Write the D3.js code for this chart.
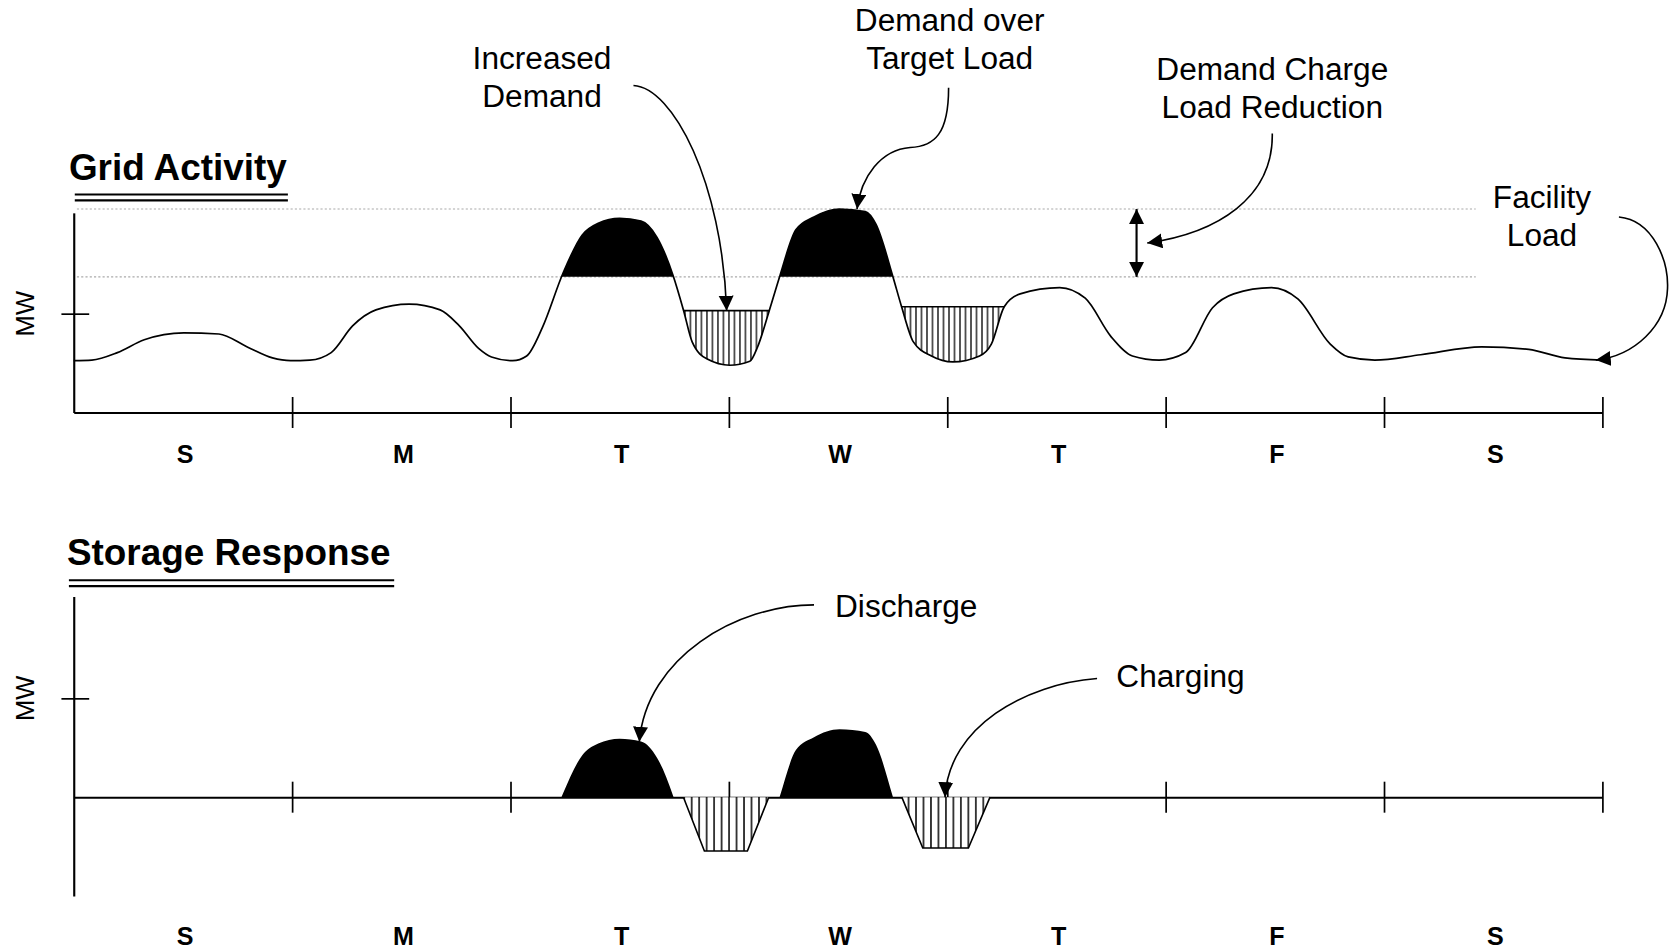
<!DOCTYPE html>
<html>
<head>
<meta charset="utf-8">
<script src="https://cdn.jsdelivr.net/npm/d3@7/dist/d3.min.js"></script>
<style>
  html, body { margin: 0; padding: 0; background: #fff; }
  svg { display: block; font-family: "Liberation Sans", Arial, sans-serif; }
</style>
</head>
<body>
<svg id="chart"></svg>
<script>
// day bands along the x axis (Sunday .. Saturday)
var days = ["S", "M", "T", "W", "T", "F", "S"];

// facility load, x = days since Sunday 0:00, y = MW
var loadDay = [0, 0.083, 0.2, 0.323, 0.504, 0.665, 0.797, 0.91, 0.993,
  1.081, 1.179, 1.277, 1.384, 1.536, 1.678, 1.766, 1.854, 1.913, 2.01,
  2.074, 2.147, 2.24, 2.328, 2.402, 2.5, 2.598, 2.671, 2.745, 2.793, 2.832, 2.901,
  3.004, 3.096, 3.131, 3.185, 3.234, 3.307, 3.39, 3.507, 3.625, 3.674, 3.75,
  3.791, 3.845, 3.928, 4.026, 4.148, 4.202, 4.261, 4.334, 4.515, 4.632, 4.75,
  4.848, 4.97, 5.092, 5.215, 5.312, 5.485, 5.607, 5.754, 5.836, 5.958,
  6.168, 6.447, 6.663, 6.829, 7];
var loadMW = [26.2, 26.5, 30.3, 36.8, 40.3, 39.7, 33, 27.6, 26.2,
  26.5, 30.3, 43.8, 51.9, 54.8, 51.9, 43.8, 32.4, 28.1, 26.2,
  28.6, 43.2, 70.3, 89.7, 95.7, 98.2, 96.8, 88.6, 69.2, 51.5, 35.7, 27,
  23.9, 25.9, 33, 51.5, 69.2, 92.4, 98.9, 102.9, 101.6, 95.1, 69.2,
  53.5, 35.7, 28.6, 25.6, 28.6, 34.6, 53.5, 60, 63.2, 57.8, 38.4,
  28.6, 26.5, 30.3, 53, 60, 63.2, 57.3, 34.6, 28.1, 26.5,
  29.2, 33.2, 31.9, 27.6, 26.5];

var targetMW = 68.6;  // target load (lower dotted line)
var peakMW = 102.9;   // peak demand (upper dotted line)
var yTickMW = 50;

// charging windows shown hatched on the grid chart
var chargeStart = [2.793, 3.791];
var chargeEnd = [3.185, 4.261];
var chargeLevel = [51.5, 53.5];

// storage charging (negative MW) on the storage chart
var charge1Day = [2.792, 2.888, 3.085, 3.183];
var charge1MW = [0, -27.2, -27.2, 0];
var charge2Day = [3.792, 3.888, 4.097, 4.196];
var charge2MW = [0, -25.7, -25.7, 0];

// Init svg, drawn in the 1568 x 889 frame of the reference
var W = 1568, H = 889;
var svg = d3.select("#chart")
  .attr("width", 1675)
  .attr("height", 950)
  .attr("viewBox", "0 0 " + W + " " + H)
  .attr("preserveAspectRatio", "none");

var x = d3.scaleLinear().domain([0, 7]).range([69, 1500]);
var yTop = d3.scaleLinear().domain([0, 101]).range([386, 199.15]);
var yBot = d3.scaleLinear().domain([-50, 101.5]).range([838.5, 558.2]);

var load = loadDay.map(function (d, i) { return [d, loadMW[i]]; });

var defs = svg.append("defs");

// arrow head
defs.append("marker")
  .attr("id", "arrow")
  .attr("markerUnits", "userSpaceOnUse")
  .attr("markerWidth", 15).attr("markerHeight", 15)
  .attr("refX", 14).attr("refY", 7)
  .attr("orient", "auto-start-reverse")
  .append("path")
  .attr("d", "M0,0L14,7L0,14Z")
  .attr("fill", "#000");

// vertical hatch patterns
function hatch(id, step, sw) {
  var p = defs.append("pattern")
    .attr("id", id)
    .attr("patternUnits", "userSpaceOnUse")
    .attr("width", step).attr("height", 10);
  p.append("rect").attr("width", step).attr("height", 10).attr("fill", "#fff");
  p.append("line")
    .attr("x1", step / 2).attr("x2", step / 2)
    .attr("y1", 0).attr("y2", 10)
    .attr("stroke", "#000").attr("stroke-width", sw);
}
hatch("hatchTop", 5.15, 1.2);
hatch("hatchBot", 7, 1.4);

function clipRect(id, x0, y0, x1, y1) {
  defs.append("clipPath").attr("id", id)
    .append("rect")
    .attr("x", x0).attr("y", y0)
    .attr("width", x1 - x0).attr("height", y1 - y0);
}

// Title with double underline
function title(text, tx, ty, ux0, ux1, uy) {
  svg.append("text")
    .attr("x", tx).attr("y", ty)
    .attr("font-size", 34.5).attr("font-weight", "bold")
    .text(text);
  [uy, uy + 5.5].forEach(function (yy) {
    svg.append("line")
      .attr("x1", ux0).attr("x2", ux1)
      .attr("y1", yy).attr("y2", yy)
      .attr("stroke", "#000").attr("stroke-width", 2);
  });
}

// Axes: x ticks crossing the axis, one y tick, MW label, day labels
function drawAxes(y, labelY) {
  var xAxis = d3.axisBottom(x)
    .tickValues(d3.range(1, 8))
    .tickSize(14.5).tickSizeOuter(0)
    .tickFormat("");
  var gx = svg.append("g")
    .attr("transform", "translate(0," + y(0) + ")")
    .call(xAxis);
  gx.selectAll(".tick line").attr("y1", -14.5).attr("stroke-width", 1.6);
  gx.select(".domain").attr("stroke-width", 2);

  var yAxis = d3.axisLeft(y)
    .tickValues([yTickMW])
    .tickSize(11.5).tickSizeOuter(0)
    .tickFormat("");
  var gy = svg.append("g")
    .attr("transform", "translate(" + x(0) + ",0)")
    .call(yAxis);
  gy.selectAll(".tick line").attr("x2", 14.5).attr("x1", -11.5).attr("stroke-width", 1.6);
  gy.select(".domain").attr("stroke-width", 2);

  svg.append("text")
    .attr("transform", "translate(23," + y(yTickMW) + ") rotate(-90)")
    .attr("text-anchor", "middle")
    .attr("dy", "0.36em")
    .attr("font-size", 24)
    .text("MW");

  svg.append("g").selectAll("text")
    .data(days)
    .enter().append("text")
    .attr("x", function (d, i) { return x(i + 0.5) + 2; })
    .attr("y", labelY)
    .attr("text-anchor", "middle")
    .attr("font-size", 23.5).attr("font-weight", "bold")
    .text(function (d) { return d; });
}

// ---------- Grid Activity ----------
title("Grid Activity", 64.5, 168, 70, 269.5, 182);

// dotted reference lines: peak demand and target load
[peakMW, targetMW].forEach(function (v) {
  svg.append("line")
    .attr("x1", x(0) + 3).attr("x2", x(6.42))
    .attr("y1", yTop(v)).attr("y2", yTop(v))
    .attr("stroke", "#aaa").attr("stroke-width", 1)
    .attr("stroke-dasharray", "2,2");
});

var loadLine = d3.line()
  .x(function (d) { return x(d[0]); })
  .y(function (d) { return yTop(d[1]); })
  .curve(d3.curveMonotoneX);

// demand over target (black); base pushed 1px below so the clip edge stays clean
clipRect("overTarget", x(0), 0, x(7), yTop(targetMW));
svg.append("path")
  .datum(load)
  .attr("clip-path", "url(#overTarget)")
  .attr("fill", "#000")
  .attr("d", d3.area()
    .x(function (d) { return x(d[0]); })
    .y0(yTop(targetMW) + 1)
    .y1(function (d) { return yTop(d[1]); })
    .curve(d3.curveMonotoneX));

// increased demand while charging (hatched)
chargeLevel.forEach(function (lvl, i) {
  clipRect("charge" + i, x(chargeStart[i]), yTop(lvl), x(chargeEnd[i]), yTop(0));
  svg.append("path")
    .datum(load)
    .attr("clip-path", "url(#charge" + i + ")")
    .attr("fill", "url(#hatchTop)")
    .attr("d", d3.area()
      .x(function (d) { return x(d[0]); })
      .y0(yTop(lvl) - 1)
      .y1(function (d) { return yTop(d[1]); })
      .curve(d3.curveMonotoneX));
  svg.append("line")
    .attr("x1", x(chargeStart[i])).attr("x2", x(chargeEnd[i]))
    .attr("y1", yTop(lvl)).attr("y2", yTop(lvl))
    .attr("stroke", "#000").attr("stroke-width", 1.5);
});

svg.append("path")
  .datum(load)
  .attr("fill", "none")
  .attr("stroke", "#000")
  .attr("stroke-width", 1.6)
  .attr("d", loadLine);

drawAxes(yTop, 433.5);

// demand charge load reduction (double arrow)
var dblX = x(4.867);
svg.append("line")
  .attr("x1", dblX).attr("x2", dblX)
  .attr("y1", yTop(peakMW)).attr("y2", yTop(targetMW))
  .attr("stroke", "#000").attr("stroke-width", 2)
  .attr("marker-start", "url(#arrow)")
  .attr("marker-end", "url(#arrow)");

// ---------- Storage Response ----------
title("Storage Response", 62.7, 529, 64.5, 369, 543);

drawAxes(yBot, 884.5);

// discharge = load above target
clipRect("discharge", x(0), 0, x(7), yBot(0));
svg.append("path")
  .datum(load)
  .attr("clip-path", "url(#discharge)")
  .attr("fill", "#000")
  .attr("d", d3.area()
    .x(function (d) { return x(d[0]); })
    .y0(yBot(0) + 1)
    .y1(function (d) { return yBot(d[1] - targetMW); })
    .curve(d3.curveMonotoneX));

// charging trapezoids
[[charge1Day, charge1MW], [charge2Day, charge2MW]].forEach(function (c) {
  var pts = c[0].map(function (d, i) { return [d, c[1][i]]; });
  svg.append("path")
    .datum(pts)
    .attr("fill", "url(#hatchBot)")
    .attr("stroke", "#000")
    .attr("stroke-width", 1.5)
    .attr("d", d3.line()
      .x(function (d) { return x(d[0]); })
      .y(function (d) { return yBot(d[1]); }));
});

// ---------- Callouts ----------
function label(lines, tx, ty, anchor) {
  var t = svg.append("text")
    .attr("font-size", 29.6)
    .attr("text-anchor", anchor);
  lines.forEach(function (s, i) {
    t.append("tspan").attr("x", tx).attr("y", ty + i * 35.5).text(s);
  });
}

function callout(segs) {
  var p = d3.path();
  p.moveTo(segs[0][0], segs[0][1]);
  for (var i = 1; i < segs.length; i++) {
    var s = segs[i];
    p.bezierCurveTo(s[0], s[1], s[2], s[3], s[4], s[5]);
  }
  svg.append("path")
    .attr("d", p.toString())
    .attr("fill", "none")
    .attr("stroke", "#000")
    .attr("stroke-width", 1.5)
    .attr("marker-end", "url(#arrow)");
}

label(["Increased", "Demand"], 507.4, 64.6, "middle");
callout([[593, 80], [630, 82, 676, 170, x(2.99), yTop(chargeLevel[0])]]);

label(["Demand over", "Target Load"], 889, 28.8, "middle");
callout([[888, 82], [888, 125, 875, 137, 852, 138], [825, 140, 806, 165, x(3.587), yTop(peakMW)]]);

label(["Demand Charge", "Load Reduction"], 1191, 74.9, "middle");
callout([[1191, 125], [1192, 185, 1140, 218, dblX + 10, yTop((peakMW + targetMW) / 2)]]);

label(["Facility", "Load"], 1443.5, 195, "middle");
callout([[1515.5, 203], [1548, 206, 1562, 245, 1561, 270], [1560, 305, 1530, 333, x(6.97), yTop(26.5)]]);

label(["Discharge"], 781.7, 577.3, "start");
callout([[762, 566], [690, 566, 605, 615, x(2.59), yBot(28)]]);

label(["Charging"], 1045, 642.8, "start");
callout([[1027, 635], [960, 640, 888, 680, x(3.99), yBot(0)]]);
</script>
</body>
</html>
